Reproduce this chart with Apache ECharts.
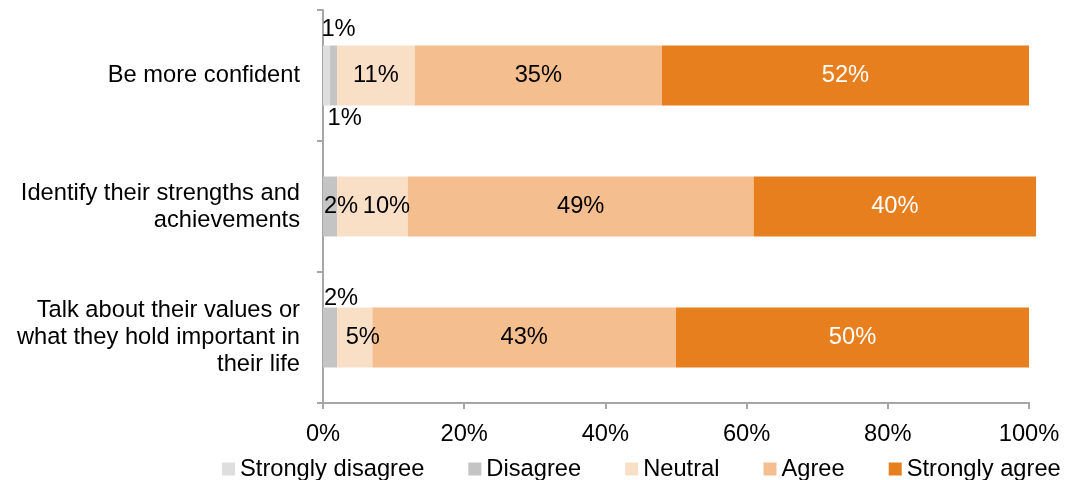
<!DOCTYPE html>
<html>
<head>
<meta charset="utf-8">
<script src="https://cdn.jsdelivr.net/npm/echarts@6/dist/echarts.min.js"></script>
<style>
  html, body { margin: 0; padding: 0; background: #fff; }
  #chart { width: 1068px; height: 480px; }
</style>
</head>
<body>
<div id="chart"></div>
<script>
const categories = [
  "Be more confident",
  "Identify their strengths and\nachievements",
  "Talk about their values or\nwhat they hold important in\ntheir life",
];
const seriesNames = ["Strongly disagree", "Disagree", "Neutral", "Agree", "Strongly agree"];
const stronglyDisagree = [1, 0, 0];
const disagree = [1, 2, 2];
const neutral = [11, 10, 5];
const agree = [35, 49, 43];
const stronglyAgree = [52, 40, 50];
const xTicks = [0, 20, 40, 60, 80, 100];

const colors = ["#dedede", "#c4c4c4", "#fadfc7", "#f5be8e", "#e87f1f"];
const font = "Liberation Sans, Arial, sans-serif";
const fs = 23.7;

// where excel put the small labels, key = series-category
const labelTweaks = {
  "0-0": { position: "top", offset: [12, 0], distance: 4 },
  "1-0": { position: "bottom", offset: [11, 1], distance: 0 },
  "1-1": { offset: [11, 0] },
  "1-2": { position: "top", offset: [11, 3], distance: 0 },
  "2-1": { offset: [14, 0] },
  "2-2": { offset: [8, 0] },
};

const chart = echarts.init(document.getElementById("chart"), null, { renderer: "canvas" });

const allValues = [stronglyDisagree, disagree, neutral, agree, stronglyAgree];

const series = allValues.map((vals, s) => ({
  name: seriesNames[s],
  type: "bar",
  stack: "total",
  barWidth: 60,
  clip: false,
  itemStyle: { color: colors[s] },
  label: {
    show: true,
    position: "inside",
    color: s === 4 ? "#fff" : "#000",
    fontFamily: font,
    fontSize: fs,
    formatter: (p) => (p.value > 0 ? p.value + "%" : ""),
  },
  data: vals.map((v, i) => {
    const t = labelTweaks[s + "-" + i];
    return t ? { value: v, label: t } : v;
  }),
}));

chart.setOption({
  animation: false,
  textStyle: { fontFamily: font },
  grid: { left: 323, right: 39, top: 10, bottom: 77, containLabel: false },
  legend: {
    data: seriesNames,
    left: 222,
    right: 0,
    top: 457,
    padding: 0,
    itemWidth: 13,
    itemHeight: 13,
    itemGap: 44,
    icon: "rect",
    textStyle: { fontFamily: font, fontSize: fs, color: "#000" },
  },
  xAxis: {
    type: "value",
    min: 0,
    max: 100,
    interval: 20,
    splitLine: { show: false },
    axisLine: { show: true, lineStyle: { color: "#a6a6a6", width: 2 } },
    axisTick: { show: true, length: 6, lineStyle: { color: "#a6a6a6", width: 2 } },
    axisLabel: {
      color: "#000",
      fontFamily: font,
      fontSize: fs,
      margin: 19,
      formatter: (v) => (xTicks.includes(v) ? v + "%" : ""),
    },
  },
  yAxis: {
    type: "category",
    inverse: true,
    data: categories,
    axisLine: { show: true, lineStyle: { color: "#a6a6a6", width: 2 } },
    axisTick: { show: true, length: 6, lineStyle: { color: "#a6a6a6", width: 2 } },
    axisLabel: {
      color: "#000",
      fontFamily: font,
      fontSize: fs,
      lineHeight: 27,
      align: "right",
      margin: 23,
    },
  },
  series: series,
});
</script>
</body>
</html>
